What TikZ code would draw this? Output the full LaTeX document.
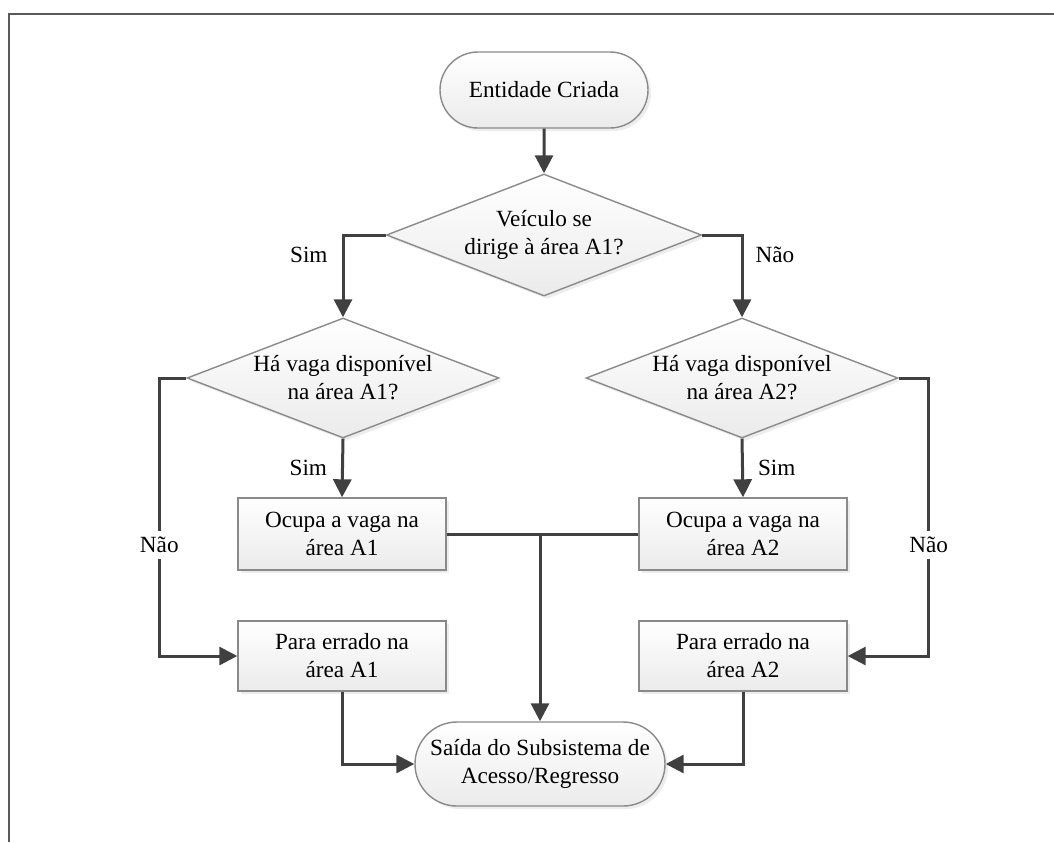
\documentclass[tikz,border=0pt]{standalone}
\usepackage{fontspec}
\setmainfont{Liberation Serif}
\usepackage{tikz}
\usetikzlibrary{shapes.geometric,shapes.misc,arrows.meta,positioning,shadows,calc}
\definecolor{flowline}{HTML}{404040}
\definecolor{flowedge}{HTML}{8A8A8A}
\definecolor{flowfill}{HTML}{EBEBEB}

\begin{document}
\begin{tikzpicture}[x=0.5pt,y=-0.5pt,
  base/.style={draw=flowedge,line width=0.7pt,top color=white,bottom color=flowfill,
    font=\fontsize{11.6}{14}\selectfont,align=center,inner sep=0pt,
    drop shadow={shadow xshift=1.5pt,shadow yshift=-1.5pt,fill=black!14}},
  terminal/.style={base,rounded rectangle,minimum width=104pt,minimum height=38pt},
  decision/.style={base,diamond,aspect=2.6,minimum width=156pt,minimum height=60pt},
  process/.style={base,rectangle,minimum width=104pt,minimum height=35pt},
  wire/.style={draw=flowline,line width=1.5pt},
  conn/.style={wire,-{Triangle[length=9pt,width=9pt]}},
  lbl/.style={font=\fontsize{11.6}{14}\selectfont,inner sep=1pt},
]
  \useasboundingbox (0,0) rectangle (1054,842);
  \draw[black!65,line width=1pt] (9,842) -- (9,14) -- (1054,14);

  \node[terminal] (start) at (544,90) {Entidade Criada};
  \node[decision,minimum width=157.5pt,minimum height=61pt] (askarea) at (544,235) {Veículo se\\dirige à área A1?};
  \node[decision] (vagaA1) at (343,378) {Há vaga disponível\\na área A1?};
  \node[decision] (vagaA2) at (742,378) {Há vaga disponível\\na área A2?};
  \node[process,minimum height=36pt] (ocupaA1) at (342,534) {Ocupa a vaga na\\área A1};
  \node[process,minimum height=36pt] (ocupaA2) at (743,534) {Ocupa a vaga na\\área A2};
  \node[process] (erradoA1) at (342,656) {Para errado na\\área A1};
  \node[process] (erradoA2) at (743,656) {Para errado na\\área A2};
  \node[terminal,minimum width=125pt,minimum height=42pt] (saida) at (540,764) {Saída do Subsistema de\\Acesso/Regresso};

  \draw[conn] (start) -- (askarea);
  \draw[conn] (askarea.west) -| node[lbl,pos=0.62,left=6pt] {Sim} (vagaA1.north);
  \draw[conn] (askarea.east) -| node[lbl,pos=0.62,right=5pt] {Não} (vagaA2.north);
  \draw[conn] (vagaA1.south) -- node[lbl,left=6pt] {Sim} (ocupaA1.north);
  \draw[conn] (vagaA2.south) -- node[lbl,right=6pt] {Sim} (ocupaA2.north);
  \draw[conn] (vagaA1.west) -- ++(-27,0) |- node[lbl,pos=0.3,fill=white,inner sep=3pt] {Não} (erradoA1.west);
  \draw[conn] (vagaA2.east) -- ++(30,0) |- node[lbl,pos=0.3,fill=white,inner sep=3pt] {Não} (erradoA2.east);
  \draw[wire] (ocupaA1.east) -- (ocupaA2.west);
  \draw[conn] (ocupaA1.east -| saida.north) -- (saida.north);
  \draw[conn] (erradoA1.south) |- (saida.west);
  \draw[conn] (erradoA2.south) |- (saida.east);
\end{tikzpicture}
\end{document}
